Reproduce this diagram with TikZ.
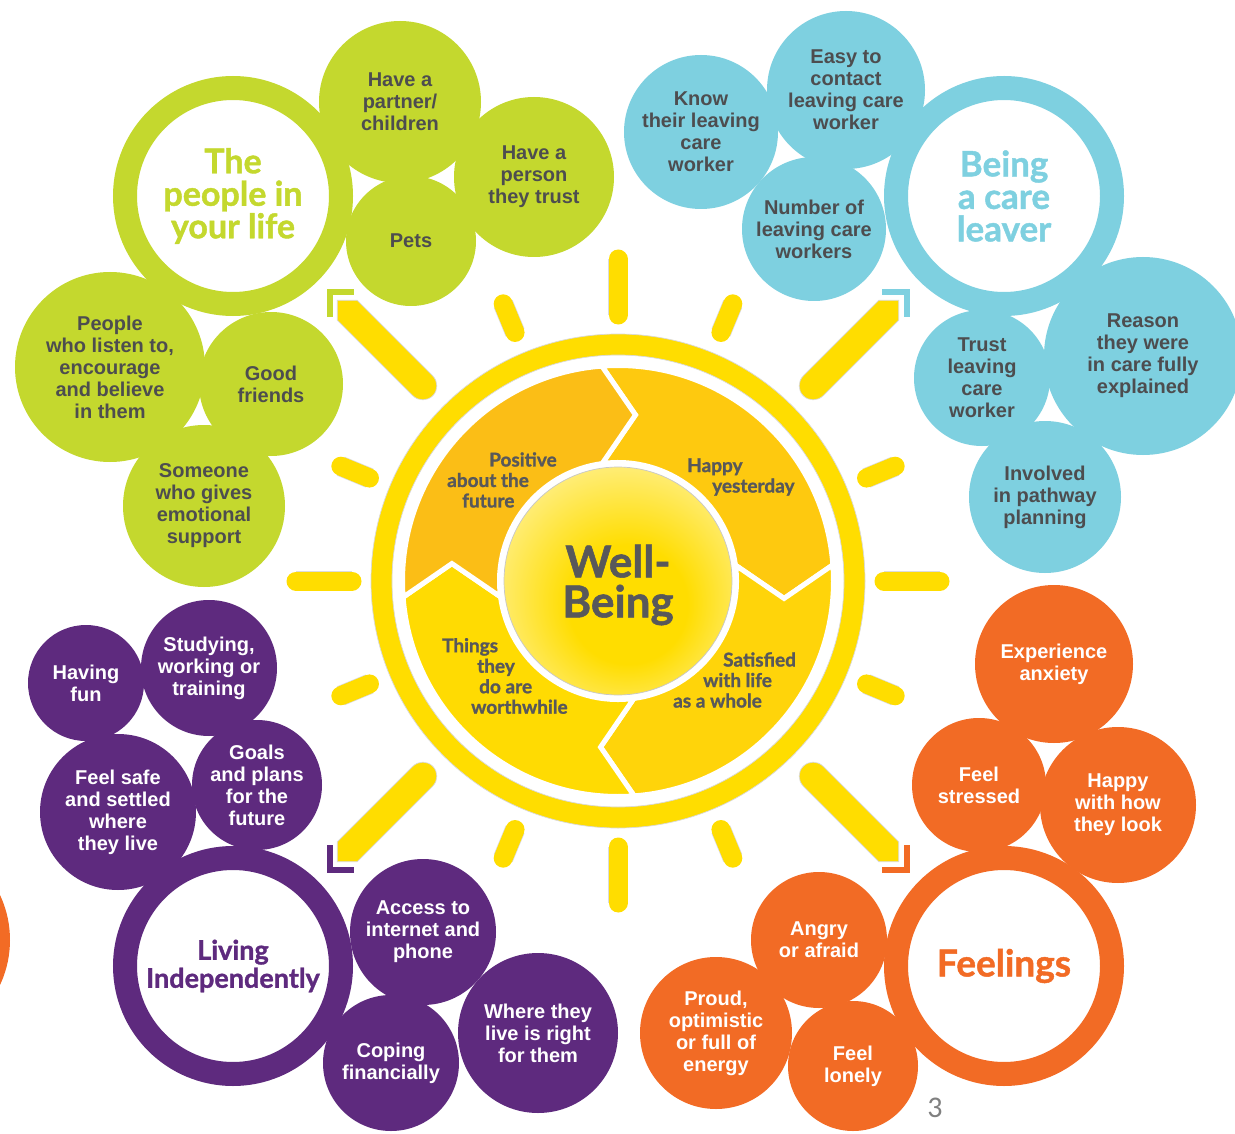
\documentclass[tikz,border=0pt]{standalone}
\usepackage{fontspec}
\setmainfont{Liberation Sans}
\newfontfamily\roundfont{Lato}[BoldFeatures={FakeBold=1.2}]
\newfontfamily\pagefont{Carlito}

\definecolor{gc}{HTML}{C4D82E}
\definecolor{bc}{HTML}{7ED0E0}
\definecolor{pc}{HTML}{5E2A7E}
\definecolor{oc}{HTML}{F26B25}
\definecolor{sunY}{HTML}{FFDD00}
\definecolor{segA}{HTML}{FBBE16}
\definecolor{segB}{HTML}{FEC90F}
\definecolor{segC}{HTML}{FFD40A}
\definecolor{segD}{HTML}{FFDB02}
\definecolor{ink}{HTML}{4D4D4F}
\definecolor{sunink}{HTML}{58585A}
\definecolor{pagegray}{HTML}{808080}

\pgfdeclareradialshading{sunglow}{\pgfpoint{3bp}{-7bp}}{%
  color(0bp)=(sunY); color(13bp)=(sunY); color(28bp)=(sunY!55!white);
  color(40bp)=(white); color(50bp)=(white)}

\tikzset{
  bub/.style={circle, inner sep=0pt, align=center,
    font=\fontsize{20}{22}\selectfont\bfseries},
  gbub/.style={bub, fill=gc, text=ink},
  bbub/.style={bub, fill=bc, text=ink},
  pbub/.style={bub, fill=pc, text=white},
  obub/.style={bub, fill=oc, text=white},
  hub/.style={circle, inner sep=0pt, minimum size=216pt, line width=24pt,
    fill=white, draw=#1, text=#1, align=center},
  ray/.style={draw=sunY, line width=19pt, line cap=round,
    preaction={draw=black!14, line width=20.4pt}},
  seglabel/.style={anchor=west, inner sep=0pt, align=left, text=sunink,
    font=\roundfont\bfseries\fontsize{19}{20.5}\selectfont},
}

\begin{document}
\begin{tikzpicture}[x=1pt, y=1pt, yscale=-1]
\useasboundingbox (0,0) rectangle (1235,1134);
\fill[white] (0,0) rectangle (1235,1134);
\clip (0,0) rectangle (1235,1134);

% ---------- the sun ----------
\begin{scope}[shift={(618,581)}]
  % rays
  \foreach \a in {0,90,180,270}
    \draw[ray] (\a:266) -- (\a:322);
  \foreach \a in {22.5,67.5,...,337.5}
    \draw[ray] (\a:269) -- (\a:300);
  % long diagonal rays pointing to the four groups
  \foreach \a/\c in {45/oc,135/pc,225/gc,315/bc}{
    \begin{scope}[rotate=\a]
      \filldraw[fill=sunY, draw=black!15, line width=0.7pt]
        (276,-14) -- (383,-14) -- (397,0) -- (383,14) -- (276,14)
        arc[start angle=90, end angle=270, radius=14] -- cycle;
      \draw[\c, line width=6pt, miter limit=10] (391,-17) -- (408,0) -- (391,17);
    \end{scope}
  }
  % outer ring
  \fill[sunY, draw=black!15, line width=0.7pt, even odd rule]
    (0,0) circle[radius=247] (0,0) circle[radius=226];
  % four arrow segments running clockwise
  \foreach \k/\c in {0/segB,1/segC,2/segD,3/segA}{
    \pgfmathsetmacro\ao{-94.3+90*\k}
    \pgfmathsetmacro\av{-84+90*\k}
    \pgfmathsetmacro\ai{-97.7+90*\k}
    \filldraw[fill=\c, draw=white, line width=5pt, line join=miter]
      (\ao:215.5) arc[start angle=\ao, end angle=\ao+90, radius=215.5]
      -- (\av+90:167) -- (\ai+90:118.5)
      arc[start angle=\ai+90, end angle=\ai, radius=118.5]
      -- (\av:167) -- cycle;
  }
  % glowing centre
  \shadedraw[shading=sunglow, draw=black!22, line width=0.7pt]
    (0,0) circle[radius=114];
\end{scope}

\node[anchor=center, align=center, text=sunink, inner sep=0pt,
  font=\roundfont\bfseries\fontsize{44}{40}\selectfont] (wb) at (618,585) {Well-\\Being};

\node[seglabel] (seg1) at (447,480) {\hspace*{42pt}Positive\\about the\\\hspace*{15pt}future};
\node[seglabel] (seg2) at (687,477) {Happy\\\hspace*{25pt}yesterday};
\node[seglabel] (seg3) at (673,680) {\hspace*{50pt}Satisfied\\\hspace*{30pt}with life\\as a whole};
\node[seglabel] (seg4) at (442,676) {Things\\\hspace*{35pt}they\\\hspace*{37pt}do are\\\hspace*{29pt}worthwhile};

% ---------- the people in your life ----------
\node[gbub, minimum size=162pt] (g1) at (400,102) {Have a\\partner/\\children};
\node[gbub, minimum size=160pt] (g2) at (534,177) {Have a\\person\\they trust};
\node[gbub, minimum size=130pt] (g3) at (411,241) {Pets};
\node[gbub, minimum size=190pt] (g4) at (110,367) {People\\who listen to,\\encourage\\and believe\\in them};
\node[gbub, minimum size=144pt] (g5) at (271,384) {Good\\friends};
\node[gbub, minimum size=162pt] (g6) at (204,506) {Someone\\who gives\\emotional\\support};
\node[hub=gc, font=\roundfont\bfseries\fontsize{34}{32.5}\selectfont] (gh) at (233,196)
  {The\\people in\\your life};

% ---------- being a care leaver ----------
\node[bbub, minimum size=154pt] (b1) at (701,132) {Know\\their leaving\\care\\worker};
\node[bbub, minimum size=158pt] (b2) at (846,90) {Easy to\\contact\\leaving care\\worker};
\node[bbub, minimum size=144pt] (b3) at (814,229) {Number of\\leaving care\\workers};
\node[bbub, minimum size=198pt] (b4) at (1143,356) {Reason\\they were\\in care fully\\explained};
\node[bbub, minimum size=136pt] (b5) at (982,378) {Trust\\leaving\\care\\worker};
\node[bbub, minimum size=152pt] (b6) at (1045,497) {Involved\\in pathway\\planning};
\node[hub=bc, font=\roundfont\bfseries\fontsize{35}{32.5}\selectfont] (bh) at (1004,196)
  {Being\\a care\\leaver};

% ---------- living independently ----------
\fill[oc] (-96,940) circle[radius=106];
\node[pbub, minimum size=116pt] (p1) at (86,683) {Having\\fun};
\node[pbub, minimum size=136pt] (p2) at (209,668) {Studying,\\working or\\training};
\node[pbub, minimum size=156pt] (p3) at (118,812) {Feel safe\\and settled\\where\\they live};
\node[pbub, minimum size=130pt] (p4) at (257,785) {Goals\\and plans\\for the\\future};
\node[pbub, minimum size=146pt] (p5) at (423,932) {Access to\\internet and\\phone};
\node[pbub, minimum size=160pt] (p6) at (538,1033) {Where they\\live is right\\for them};
\node[pbub, minimum size=136pt] (p7) at (391,1063) {Coping\\financially};
\node[hub=pc, font=\roundfont\bfseries\fontsize{27}{28}\selectfont] (ph) at (233,966)
  {Living\\Independently};

% ---------- feelings ----------
\node[obub, minimum size=158pt] (o1) at (1054,664) {Experience\\anxiety};
\node[obub, minimum size=134pt] (o2) at (979,785) {Feel\\stressed};
\node[obub, minimum size=156pt] (o3) at (1118,805) {Happy\\with how\\they look};
\node[obub, minimum size=136pt] (o4) at (819,940) {Angry\\or afraid};
\node[obub, minimum size=152pt] (o5) at (716,1033) {Proud,\\optimistic\\or full of\\energy};
\node[obub, minimum size=130pt] (o6) at (853,1066) {Feel\\lonely};
\node[hub=oc, font=\roundfont\bfseries\fontsize{37}{40}\selectfont] (oh) at (1004,966)
  {Feelings};

% page number
\node[text=pagegray, inner sep=0pt, font=\pagefont\fontsize{30}{30}\selectfont] (pg) at (935,1108) {3};
\end{tikzpicture}
\end{document}
